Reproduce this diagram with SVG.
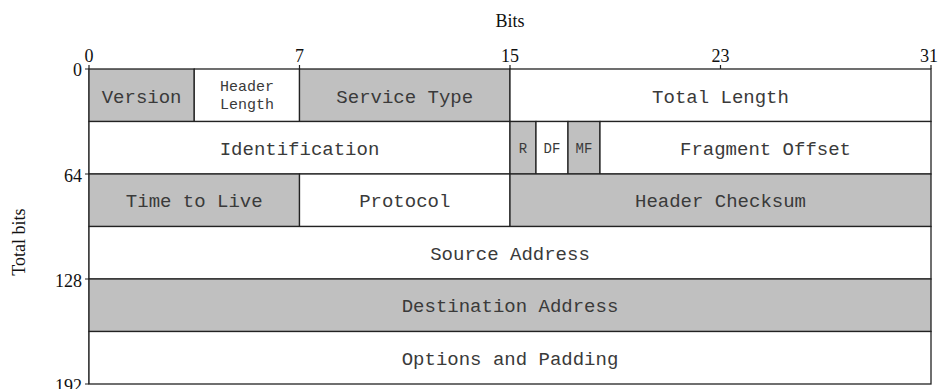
<svg xmlns="http://www.w3.org/2000/svg" width="938" height="389" viewBox="0 0 938 389">
<style>
.g{fill:#c0c0c0}
.w{fill:#ffffff}
.c{stroke:#222;stroke-width:1.3}
.t{font-family:"Liberation Mono","Courier New",monospace;font-size:19px;fill:#3a3a3a;text-anchor:middle}
.s{font-family:"Liberation Mono","Courier New",monospace;font-size:15px;fill:#3a3a3a;text-anchor:middle}
.f{font-family:"Liberation Mono","Courier New",monospace;font-size:14px;fill:#3a3a3a;text-anchor:middle}
.a{font-family:"Liberation Serif","Times New Roman",serif;font-size:18px;fill:#111}
.ax{stroke:#222;stroke-width:1.2;fill:none}
</style>
<rect width="938" height="389" fill="#ffffff"/>
<g id="axes">
<text class="a" x="510" y="27" text-anchor="middle">Bits</text>
<text class="a" x="89" y="62" text-anchor="middle">0</text>
<text class="a" x="299.5" y="62" text-anchor="middle">7</text>
<text class="a" x="510" y="62" text-anchor="middle">15</text>
<text class="a" x="720.5" y="62" text-anchor="middle">23</text>
<text class="a" x="929" y="62" text-anchor="middle">31</text>
<text class="a" x="82" y="75.5" text-anchor="end">0</text>
<text class="a" x="82" y="181.5" text-anchor="end">64</text>
<text class="a" x="82" y="286.5" text-anchor="end">128</text>
<text class="a" x="82" y="391.5" text-anchor="end">192</text>
<text class="a" transform="translate(25,242) rotate(-90)" text-anchor="middle">Total bits</text>
<path class="ax" d="M89 65V384M299.5 65V69M510 65V69M720.5 65V69M931 65V69M85 69H89M85 174H89M85 279H89M85 384H89"/>
</g>
<g id="f-version"><rect class="g c" x="89" y="69" width="105.25" height="52.5"/><text class="t" x="141.6" y="103">Version</text></g>
<g id="f-hlen"><rect class="w c" x="194.25" y="69" width="105.25" height="52.5"/><text class="s" x="246.9" y="91">Header</text><text class="s" x="246.9" y="108.5">Length</text></g>
<g id="f-tos"><rect class="g c" x="299.5" y="69" width="210.5" height="52.5"/><text class="t" x="404.75" y="102.5">Service Type</text></g>
<g id="f-tlen"><rect class="w c" x="510" y="69" width="421" height="52.5"/><text class="t" x="720.5" y="102.5">Total Length</text></g>
<g id="f-id"><rect class="w c" x="89" y="121.5" width="421" height="52.5"/><text class="t" x="299.5" y="154.5">Identification</text></g>
<g id="f-r"><rect class="g c" x="510" y="121.5" width="26" height="52.5"/><text class="f" x="523" y="152.5">R</text></g>
<g id="f-df"><rect class="w c" x="536" y="121.5" width="32" height="52.5"/><text class="f" x="552" y="152.5">DF</text></g>
<g id="f-mf"><rect class="g c" x="568" y="121.5" width="32" height="52.5"/><text class="f" x="584" y="152.5">MF</text></g>
<g id="f-frag"><rect class="w c" x="600" y="121.5" width="331" height="52.5"/><text class="t" x="765.5" y="154.5">Fragment Offset</text></g>
<g id="f-ttl"><rect class="g c" x="89" y="174" width="210.5" height="52.5"/><text class="t" x="194.25" y="207.3">Time to Live</text></g>
<g id="f-proto"><rect class="w c" x="299.5" y="174" width="210.5" height="52.5"/><text class="t" x="404.75" y="207.3">Protocol</text></g>
<g id="f-csum"><rect class="g c" x="510" y="174" width="421" height="52.5"/><text class="t" x="720.5" y="207.3">Header Checksum</text></g>
<g id="f-src"><rect class="w c" x="89" y="226.5" width="842" height="52.5"/><text class="t" x="510" y="259.7">Source Address</text></g>
<g id="f-dst"><rect class="g c" x="89" y="279" width="842" height="52.5"/><text class="t" x="510" y="312.2">Destination Address</text></g>
<g id="f-opt"><rect class="w c" x="89" y="331.5" width="842" height="52.5"/><text class="t" x="510" y="364.7">Options and Padding</text></g>
</svg>
